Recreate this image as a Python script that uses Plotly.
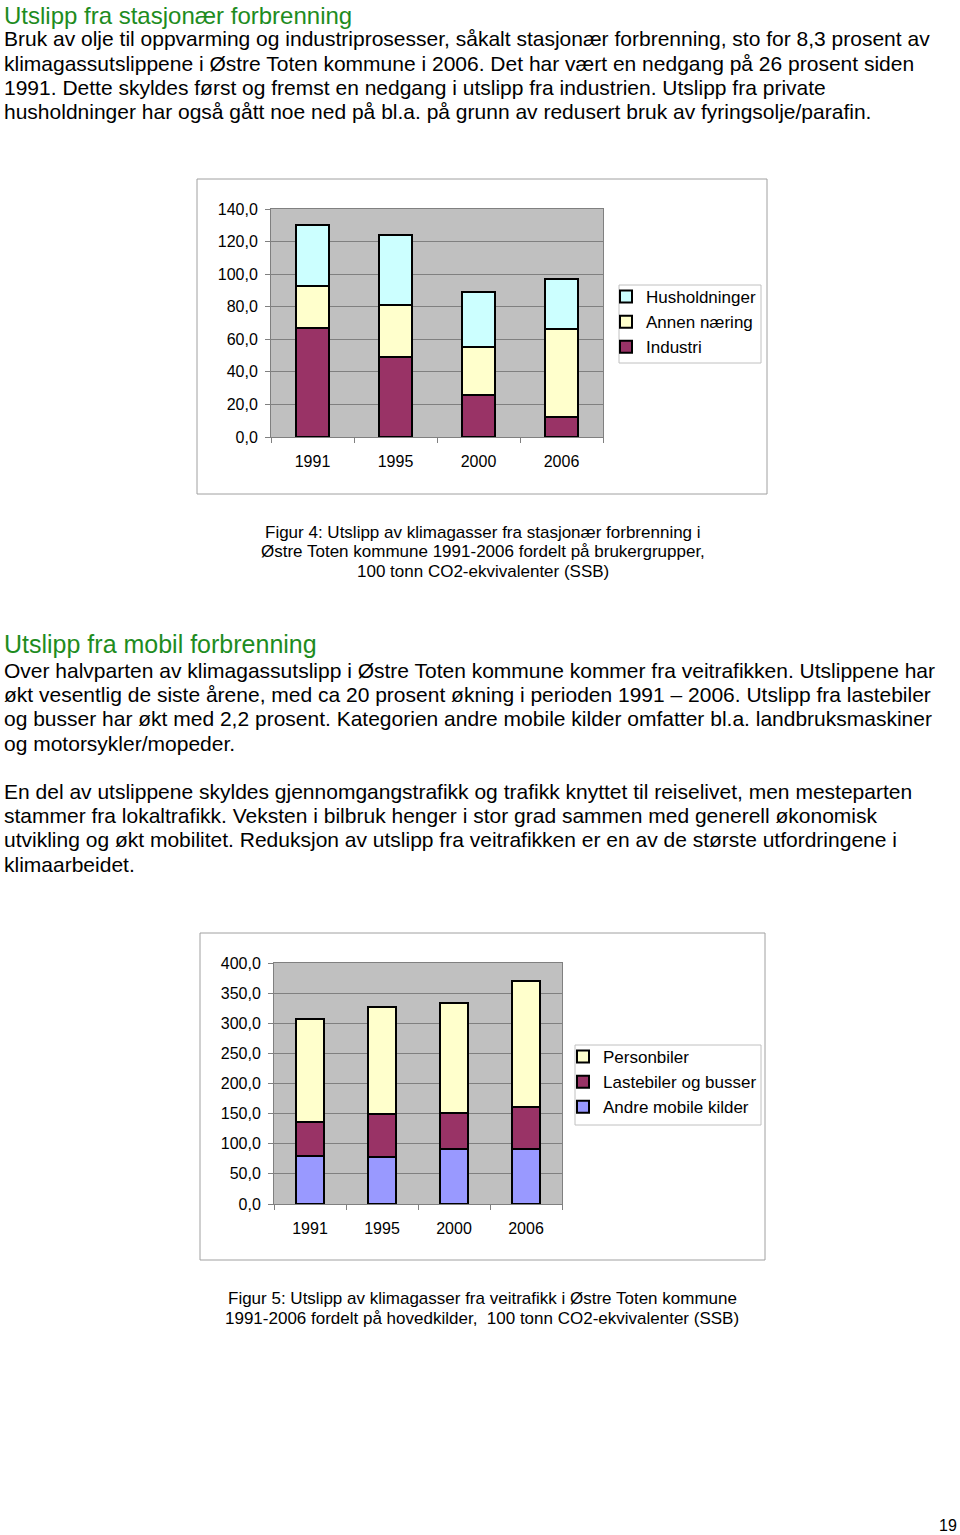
import plotly.graph_objects as go

W, H = 960, 1535

# ---------------- data ----------------
years = ["1991", "1995", "2000", "2006"]

# Figure 4 (stasjonær forbrenning), 100 tonn CO2-ekv.
industri = [67.0, 49.0, 26.0, 12.3]
annen_naering = [26.0, 32.0, 29.0, 54.3]
husholdninger = [37.0, 43.2, 34.0, 30.6]

# Figure 5 (mobil forbrenning), 100 tonn CO2-ekv.
andre_mobile = [79.6, 77.9, 91.2, 91.2]
lastebiler_busser = [57.0, 70.7, 60.2, 69.0]
personbiler = [171.2, 178.4, 182.3, 210.0]

heading1 = "Utslipp fra stasjonær forbrenning"
para1 = [
    "Bruk av olje til oppvarming og industriprosesser, såkalt stasjonær forbrenning, sto for 8,3 prosent av",
    "klimagassutslippene i Østre Toten kommune i 2006. Det har vært en nedgang på 26 prosent siden",
    "1991. Dette skyldes først og fremst en nedgang i utslipp fra industrien. Utslipp fra private",
    "husholdninger har også gått noe ned på bl.a. på grunn av redusert bruk av fyringsolje/parafin.",
]
caption1 = [
    "Figur 4: Utslipp av klimagasser fra stasjonær forbrenning i",
    "Østre Toten kommune 1991-2006 fordelt på brukergrupper,",
    "100 tonn CO2-ekvivalenter (SSB)",
]
heading2 = "Utslipp fra mobil forbrenning"
para2 = [
    "Over halvparten av klimagassutslipp i Østre Toten kommune kommer fra veitrafikken. Utslippene har",
    "økt vesentlig de siste årene, med ca 20 prosent økning i perioden 1991 – 2006. Utslipp fra lastebiler",
    "og busser har økt med 2,2 prosent. Kategorien andre mobile kilder omfatter bl.a. landbruksmaskiner",
    "og motorsykler/mopeder.",
]
para3 = [
    "En del av utslippene skyldes gjennomgangstrafikk og trafikk knyttet til reiselivet, men mesteparten",
    "stammer fra lokaltrafikk. Veksten i bilbruk henger i stor grad sammen med generell økonomisk",
    "utvikling og økt mobilitet. Reduksjon av utslipp fra veitrafikken er en av de største utfordringene i",
    "klimaarbeidet.",
]
caption2 = [
    "Figur 5: Utslipp av klimagasser fra veitrafikk i Østre Toten kommune",
    "1991-2006 fordelt på hovedkilder,  100 tonn CO2-ekvivalenter (SSB)",
]
page_number = "19"

# ---------------- helpers ----------------
FONT = "Liberation Sans, Arial, sans-serif"


def px_x(x):
    return x / W


def px_y(y):
    return 1 - y / H


fig = go.Figure()

line = dict(color="black", width=2)
fig.add_trace(go.Bar(x=years, y=industri, name="Industri", marker=dict(color="#993366", line=line),
                     xaxis="x", yaxis="y", legend="legend"))
fig.add_trace(go.Bar(x=years, y=annen_naering, name="Annen næring", marker=dict(color="#FFFFCC", line=line),
                     xaxis="x", yaxis="y", legend="legend"))
fig.add_trace(go.Bar(x=years, y=husholdninger, name="Husholdninger", marker=dict(color="#CCFFFF", line=line),
                     xaxis="x", yaxis="y", legend="legend"))

fig.add_trace(go.Bar(x=years, y=andre_mobile, name="Andre mobile kilder", marker=dict(color="#9999FF", line=line),
                     xaxis="x2", yaxis="y2", legend="legend2"))
fig.add_trace(go.Bar(x=years, y=lastebiler_busser, name="Lastebiler og busser", marker=dict(color="#993366", line=line),
                     xaxis="x2", yaxis="y2", legend="legend2"))
fig.add_trace(go.Bar(x=years, y=personbiler, name="Personbiler", marker=dict(color="#FFFFCC", line=line),
                     xaxis="x2", yaxis="y2", legend="legend2"))

axis_common_x = dict(type="category", showline=True, linecolor="#808080", linewidth=1, mirror=True,
                     ticks="outside", tickson="boundaries", ticklen=5, tickcolor="#808080",
                     showgrid=False, tickfont=dict(family=FONT, size=16, color="black"),
                     ticklabelstandoff=10, fixedrange=True)
axis_common_y = dict(showline=True, linecolor="#808080", linewidth=1, mirror=True,
                     ticks="outside", ticklen=5, tickcolor="#808080",
                     showgrid=True, gridcolor="#808080", gridwidth=1,
                     tickformat=".1f", tickfont=dict(family=FONT, size=16, color="black"),
                     ticklabelstandoff=4, zeroline=False, fixedrange=True)

legend_common = dict(bgcolor="rgba(0,0,0,0)", borderwidth=0,
                     font=dict(family=FONT, size=17, color="black"), traceorder="reversed",
                     xanchor="left", yanchor="top", itemwidth=30, tracegroupgap=0)

fig.update_layout(
    width=W, height=H,
    margin=dict(l=0, r=0, t=0, b=0, autoexpand=False),
    paper_bgcolor="white",
    plot_bgcolor="#C0C0C0",
    barmode="stack",
    bargap=0.6,
    separators=", ",
    xaxis=dict(domain=[px_x(271), px_x(603)], anchor="y", **axis_common_x),
    yaxis=dict(domain=[px_y(437), px_y(209)], anchor="x", range=[0, 140], dtick=20, **axis_common_y),
    xaxis2=dict(domain=[px_x(274), px_x(562)], anchor="y2", **axis_common_x),
    yaxis2=dict(domain=[px_y(1204), px_y(963)], anchor="x2", range=[0, 400], dtick=50, **axis_common_y),
    legend=dict(x=px_x(606), y=px_y(279), **legend_common),
    legend2=dict(x=px_x(563), y=px_y(1039), **legend_common),
    showlegend=True,
)

# chart frames
for (x0, y0, x1, y1) in [(197, 179, 767, 494), (200, 933, 765, 1260)]:
    fig.add_shape(type="rect", xref="paper", yref="paper",
                  x0=px_x(x0), x1=px_x(x1), y0=px_y(y1), y1=px_y(y0),
                  line=dict(color="#A0A0A0", width=1), fillcolor="rgba(0,0,0,0)", layer="below")
# legend boxes
for (x0, y0, x1, y1) in [(619, 285, 761, 363), (575, 1045, 761, 1125)]:
    fig.add_shape(type="rect", xref="paper", yref="paper",
                  x0=px_x(x0), x1=px_x(x1), y0=px_y(y1), y1=px_y(y0),
                  line=dict(color="#C0C0C0", width=1), fillcolor="white", layer="below")


def add_text(text, xpx, ypx, size, color="black", anchor="left"):
    fig.add_annotation(text=text, x=px_x(xpx), y=px_y(ypx), xref="paper", yref="paper",
                       xanchor=anchor, yanchor="middle", showarrow=False, borderpad=0,
                       font=dict(family=FONT, size=size, color=color))


GREEN = "#1E8C1E"
add_text(heading1, 3, 15.5, 24, GREEN)
for i, t in enumerate(para1):
    add_text(t, 3, 39 + i * 24.3, 21)
for i, t in enumerate(caption1):
    add_text(t, 483, 532 + i * 19.5, 17, anchor="center")
add_text(heading2, 3, 644, 25, GREEN)
for i, t in enumerate(para2):
    add_text(t, 3, 670 + i * 24.4, 21)
for i, t in enumerate(para3):
    add_text(t, 3, 791 + i * 24.4, 21)
for i, t in enumerate(caption2):
    add_text(t, 482, 1298 + i * 20, 17, anchor="center")
add_text(page_number, 958, 1525, 16, anchor="right")

fig.write_html("out.html")
